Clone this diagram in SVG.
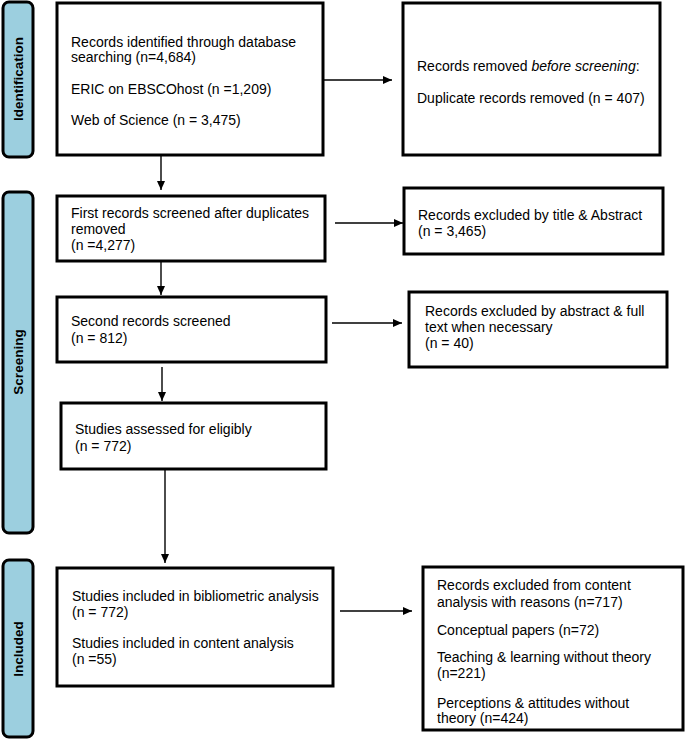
<svg xmlns="http://www.w3.org/2000/svg" width="685" height="739" viewBox="0 0 685 739">
<defs>
<marker id="ah" markerWidth="9" markerHeight="8" refX="9" refY="4" orient="auto" markerUnits="userSpaceOnUse">
<path d="M0,0 L9,4 L0,8 Z" fill="#000"/>
</marker>
<style>
.bar{fill:#9ccfdf;stroke:#000;stroke-width:3}
.box{fill:#fff;stroke:#000;stroke-width:3}
.lbl{font-family:"Liberation Sans",Arial,sans-serif;font-size:13.5px;font-weight:bold;fill:#000;text-anchor:middle}
.t{font-family:"Liberation Sans",Arial,sans-serif;font-size:14px;fill:#000}
.c{stroke:#000;stroke-width:1.4;fill:none;marker-end:url(#ah)}
</style>
</defs>
<rect width="685" height="739" fill="#fff"/>
<g id="phase-identification">
<rect class="bar" x="3" y="2" width="30" height="155" rx="6"/>
<text class="lbl" transform="translate(23,79) rotate(-90)">Identification</text>
</g>
<g id="phase-screening">
<rect class="bar" x="3" y="192" width="30" height="341" rx="6"/>
<text class="lbl" transform="translate(23,362) rotate(-90)">Screening</text>
</g>
<g id="phase-included">
<rect class="bar" x="3" y="560" width="30" height="177" rx="6"/>
<text class="lbl" transform="translate(23,649) rotate(-90)">Included</text>
</g>
<g id="n-identified">
<rect class="box" x="57" y="3" width="266" height="152"/>
<text class="t" x="71" y="47">Records identified through database</text>
<text class="t" x="71" y="62">searching (n=4,684)</text>
<text class="t" x="71" y="94">ERIC on EBSCOhost (n =1,209)</text>
<text class="t" x="71" y="125">Web of Science (n = 3,475)</text>
</g>
<g id="n-removed">
<rect class="box" x="403" y="3" width="257" height="152"/>
<text class="t" x="417" y="71">Records removed <tspan font-style="italic">before screening</tspan>:</text>
<text class="t" x="417" y="103">Duplicate records removed (n = 407)</text>
</g>
<g id="n-first">
<rect class="box" x="57" y="196" width="268" height="65"/>
<text class="t" x="71" y="218">First records screened after duplicates</text>
<text class="t" x="71" y="234">removed</text>
<text class="t" x="71" y="250">(n =4,277)</text>
</g>
<g id="n-excl1">
<rect class="box" x="404" y="188" width="259" height="66"/>
<text class="t" x="418" y="220">Records excluded by title &amp; Abstract</text>
<text class="t" x="418" y="236">(n = 3,465)</text>
</g>
<g id="n-second">
<rect class="box" x="57" y="297" width="269" height="65"/>
<text class="t" x="71" y="326">Second records screened</text>
<text class="t" x="71" y="343">(n = 812)</text>
</g>
<g id="n-excl2">
<rect class="box" x="409" y="292" width="258" height="75"/>
<text class="t" x="425" y="316">Records excluded by abstract &amp; full</text>
<text class="t" x="425" y="332">text when necessary</text>
<text class="t" x="425" y="348">(n = 40)</text>
</g>
<g id="n-assessed">
<rect class="box" x="61" y="403" width="265" height="66"/>
<text class="t" x="75" y="434">Studies assessed for eligibly</text>
<text class="t" x="75" y="451">(n = 772)</text>
</g>
<g id="n-included">
<rect class="box" x="57" y="568" width="276" height="118"/>
<text class="t" x="72" y="601">Studies included in bibliometric analysis</text>
<text class="t" x="72" y="617">(n = 772)</text>
<text class="t" x="72" y="648">Studies included in content analysis</text>
<text class="t" x="72" y="664">(n =55)</text>
</g>
<g id="n-excl3">
<rect class="box" x="423" y="567" width="260" height="163"/>
<text class="t" x="437" y="590">Records excluded from content</text>
<text class="t" x="437" y="607">analysis with reasons (n=717)</text>
<text class="t" x="437" y="635">Conceptual papers (n=72)</text>
<text class="t" x="437" y="662">Teaching &amp; learning without theory</text>
<text class="t" x="437" y="678">(n=221)</text>
<text class="t" x="437" y="708">Perceptions &amp; attitudes without</text>
<text class="t" x="437" y="723">theory (n=424)</text>
</g>
<g id="connectors">
<line class="c" x1="323" y1="80" x2="392" y2="80"/>
<line class="c" x1="161" y1="155" x2="161" y2="190"/>
<line class="c" x1="335" y1="223" x2="403" y2="223"/>
<line class="c" x1="161" y1="261" x2="161" y2="295"/>
<line class="c" x1="332" y1="323" x2="402" y2="323"/>
<line class="c" x1="162" y1="367" x2="162" y2="401"/>
<line class="c" x1="165" y1="469" x2="165" y2="563"/>
<line class="c" x1="340" y1="611" x2="412" y2="611"/>
</g>
</svg>
